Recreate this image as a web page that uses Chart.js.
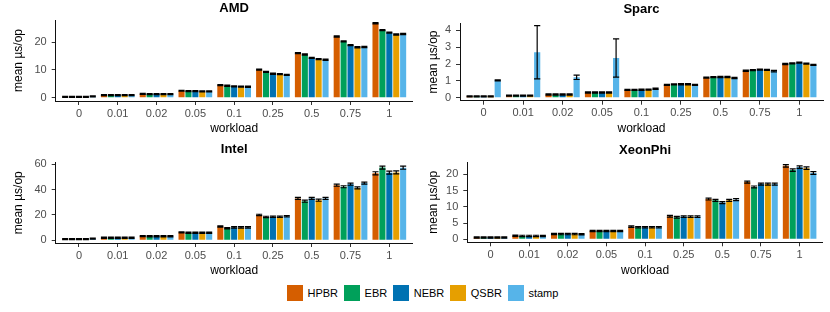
<!DOCTYPE html>
<html>
<head>
<meta charset="utf-8">
<script src="https://cdn.jsdelivr.net/npm/chart.js@4/dist/chart.umd.min.js"></script>
<style>
  body { margin: 0; background: #fff; font-family: "Liberation Sans", Arial, sans-serif; }
  #wrap { position: relative; width: 830px; height: 312px; }
  .panel { position: absolute; width: 415px; height: 140px; }
  #legend { position: absolute; left: 287px; top: 285px; display: flex; align-items: center; font-size: 11px; color: #000; }
  .item { display: flex; align-items: center; margin-right: 6px; }
  .swatch { width: 16px; height: 16px; margin-right: 4.5px; }
</style>
</head>
<body>
<div id="wrap">
  <div class="panel" style="left:0;top:0"><canvas id="amd"></canvas></div>
  <div class="panel" style="left:415px;top:0"><canvas id="sparc"></canvas></div>
  <div class="panel" style="left:0;top:140px"><canvas id="intel"></canvas></div>
  <div class="panel" style="left:415px;top:140px"><canvas id="xeon"></canvas></div>
  <div id="legend"></div>
</div>
<script>
const workloads = ['0', '0.01', '0.02', '0.05', '0.1', '0.25', '0.5', '0.75', '1'];
const seriesNames = ['HPBR', 'EBR', 'NEBR', 'QSBR', 'stamp'];
const seriesColors = ['#D55E00', '#00A05A', '#0072B2', '#E69F00', '#56B4E9'];

// AMD
const amdHPBR  = [0.3, 0.95, 1.4, 2.5, 4.5, 10.1, 16.1, 22.1, 26.9];
const amdEBR   = [0.3, 0.9, 1.3, 2.35, 4.3, 9.3, 15.6, 20.3, 24.4];
const amdNEBR  = [0.3, 0.9, 1.3, 2.35, 4.1, 8.65, 14.4, 19.0, 23.5];
const amdQSBR  = [0.3, 0.9, 1.25, 2.3, 4.0, 8.5, 13.9, 18.2, 22.8];
const amdStamp = [0.5, 0.9, 1.25, 2.3, 3.95, 8.2, 13.7, 18.3, 23.0];
const amdErr   = [0.18, 0.18, 0.18, 0.18, 0.2, 0.2, 0.2, 0.2, 0.22];
const amdTicks = [0, 10, 20];

// Sparc
const sparcHPBR  = [0.08, 0.12, 0.19, 0.31, 0.46, 0.76, 1.19, 1.6, 2.0];
const sparcEBR   = [0.08, 0.12, 0.19, 0.31, 0.46, 0.79, 1.22, 1.64, 2.04];
const sparcNEBR  = [0.08, 0.12, 0.19, 0.31, 0.47, 0.8, 1.23, 1.67, 2.08];
const sparcQSBR  = [0.08, 0.12, 0.19, 0.31, 0.48, 0.8, 1.23, 1.65, 2.02];
const sparcStamp = [1.03, 2.7, 1.21, 2.36, 0.53, 0.76, 1.17, 1.58, 1.95];
const sparcErr      = [0.035, 0.035, 0.035, 0.035, 0.035, 0.035, 0.035, 0.035, 0.035];
const sparcStampErr = [0.035, 1.58, 0.13, 1.14, 0.035, 0.035, 0.035, 0.045, 0.035];
const sparcTicks = [0, 1, 2, 3, 4];

// Intel
const intelHPBR  = [1.0, 2.0, 3.3, 6.3, 10.9, 20.0, 33.0, 43.4, 52.8];
const intelEBR   = [1.0, 2.0, 3.2, 6.0, 9.5, 18.4, 30.8, 42.2, 57.3];
const intelNEBR  = [1.0, 2.0, 3.2, 6.0, 10.2, 18.6, 33.0, 44.2, 53.3];
const intelQSBR  = [1.0, 2.0, 3.2, 6.0, 10.2, 18.6, 31.6, 41.3, 53.5];
const intelStamp = [1.3, 2.0, 3.2, 6.0, 10.2, 19.0, 33.0, 45.1, 57.2];
const intelErr   = [0.45, 0.45, 0.45, 0.45, 0.55, 0.55, 0.8, 0.8, 1.2];
const intelTicks = [0, 20, 40, 60];

// XeonPhi
const xeonHPBR  = [0.55, 1.1, 1.65, 2.55, 3.9, 7.1, 12.4, 17.6, 22.6];
const xeonEBR   = [0.55, 1.05, 1.6, 2.55, 3.7, 6.8, 12.0, 16.1, 21.3];
const xeonNEBR  = [0.55, 1.05, 1.6, 2.55, 3.7, 7.0, 11.3, 17.0, 22.2];
const xeonQSBR  = [0.55, 1.05, 1.6, 2.55, 3.7, 7.0, 12.0, 17.0, 21.9];
const xeonStamp = [0.55, 1.0, 1.55, 2.55, 3.7, 7.0, 12.2, 17.0, 20.4];
const xeonErr   = [0.2, 0.2, 0.2, 0.2, 0.22, 0.25, 0.3, 0.3, 0.4];
const xeonTicks = [0, 5, 10, 15, 20];

const FONT = '"Liberation Sans", Arial, sans-serif';

// draws mean +/- err with caps on every bar
const errorBars = {
  id: 'errorBars',
  afterDatasetsDraw(chart) {
    const ctx = chart.ctx;
    const y = chart.scales.y;
    ctx.save();
    ctx.strokeStyle = '#000';
    ctx.lineWidth = 1.2;
    chart.data.datasets.forEach((ds, di) => {
      const meta = chart.getDatasetMeta(di);
      meta.data.forEach((bar, i) => {
        const m = ds.data[i].y, e = ds.err[i];
        const hi = y.getPixelForValue(m + e);
        const lo = y.getPixelForValue(m - e);
        const half = bar.width * 0.5;
        ctx.beginPath();
        ctx.moveTo(bar.x, hi); ctx.lineTo(bar.x, lo);
        ctx.moveTo(bar.x - half, hi); ctx.lineTo(bar.x + half, hi);
        ctx.moveTo(bar.x - half, lo); ctx.lineTo(bar.x + half, lo);
        ctx.stroke();
      });
    });
    ctx.restore();
  }
};

function makePanel(id, title, means, errs, yTicks, box) {
  const datasets = means.map((vals, s) => ({
    label: seriesNames[s],
    data: vals.map((v, i) => ({ x: i, y: v })),
    err: errs[s],
    backgroundColor: seriesColors[s],
    borderWidth: 0,
    categoryPercentage: 0.89,
    barPercentage: 0.88
  }));

  new Chart(document.getElementById(id), {
    type: 'bar',
    data: { datasets },
    plugins: [errorBars],
    options: {
      responsive: true,
      maintainAspectRatio: false,
      animation: false,
      layout: { padding: { left: 0, right: 415 - box.right, top: 0, bottom: 0 } },
      plugins: {
        legend: { display: false },
        tooltip: { enabled: false },
        title: {
          display: true,
          text: title,
          fullSize: false,
          color: '#000',
          font: { family: FONT, size: 13, weight: 'bold', lineHeight: 1.2 },
          padding: box.titlePad
        }
      },
      scales: {
        x: {
          type: 'linear',
          min: -0.6,
          max: 8.6,
          offset: false,
          afterBuildTicks: (s) => { s.ticks = workloads.map((w, i) => ({ value: i })); },
          afterFit: (s) => { s.height = 140 - box.bottom; },
          ticks: {
            autoSkip: false,
            maxRotation: 0,
            padding: 2,
            color: '#4D4D4D',
            font: { family: FONT, size: 11 },
            callback: (v) => workloads[v]
          },
          grid: { offset: false, drawOnChartArea: false, drawTicks: true, tickLength: 4, tickColor: '#333' },
          border: { display: true, color: '#111', width: 1 },
          title: {
            display: true,
            text: 'workload',
            color: '#000',
            font: { family: FONT, size: 12 },
            padding: { top: 0, bottom: box.xTitlePad }
          }
        },
        y: {
          min: box.yMin,
          max: box.yMax,
          afterBuildTicks: (s) => { s.ticks = yTicks.map(v => ({ value: v })); },
          afterFit: (s) => { s.width = box.left; },
          ticks: { padding: 5, color: '#4D4D4D', font: { family: FONT, size: 11 } },
          grid: { drawOnChartArea: false, drawTicks: true, tickLength: 4, tickColor: '#333' },
          border: { display: true, color: '#111', width: 1 },
          title: {
            display: true,
            text: 'mean µs/op',
            color: '#000',
            font: { family: FONT, size: 12 },
            padding: { top: 11, bottom: 0 }
          }
        }
      }
    }
  });
}

makePanel('amd', 'AMD',
  [amdHPBR, amdEBR, amdNEBR, amdQSBR, amdStamp],
  [amdErr, amdErr, amdErr, amdErr, amdErr], amdTicks,
  { titlePad: { top: 0.5, bottom: 3.9 }, left: 55.7, right: 412.6, bottom: 101, yMin: -1.2, yMax: 28.05, xTitlePad: 3.8 });

makePanel('sparc', 'Sparc',
  [sparcHPBR, sparcEBR, sparcNEBR, sparcQSBR, sparcStamp],
  [sparcErr, sparcErr, sparcErr, sparcErr, sparcStampErr], sparcTicks,
  { titlePad: { top: 1.2, bottom: 6.5 }, left: 45, right: 408, bottom: 100.7, yMin: -0.18, yMax: 4.42, xTitlePad: 4.1 });

makePanel('intel', 'Intel',
  [intelHPBR, intelEBR, intelNEBR, intelQSBR, intelStamp],
  [intelErr, intelErr, intelErr, intelErr, intelErr], intelTicks,
  { titlePad: { top: 1.2, bottom: 5.7 }, left: 55.7, right: 412.6, bottom: 103, yMin: -2.1, yMax: 61.3, xTitlePad: 1.8 });

makePanel('xeon', 'XeonPhi',
  [xeonHPBR, xeonEBR, xeonNEBR, xeonQSBR, xeonStamp],
  [xeonErr, xeonErr, xeonErr, xeonErr, xeonErr], xeonTicks,
  { titlePad: { top: 2.2, bottom: 4.5 }, left: 52.3, right: 407.8, bottom: 102.3, yMin: -0.92, yMax: 23.7, xTitlePad: 2.5 });

// shared legend
const legend = document.getElementById('legend');
seriesNames.forEach((name, s) => {
  const item = document.createElement('div');
  item.className = 'item';
  item.innerHTML = `<span class="swatch" style="background:${seriesColors[s]}"></span><span>${name}</span>`;
  legend.appendChild(item);
});
</script>
</body>
</html>
